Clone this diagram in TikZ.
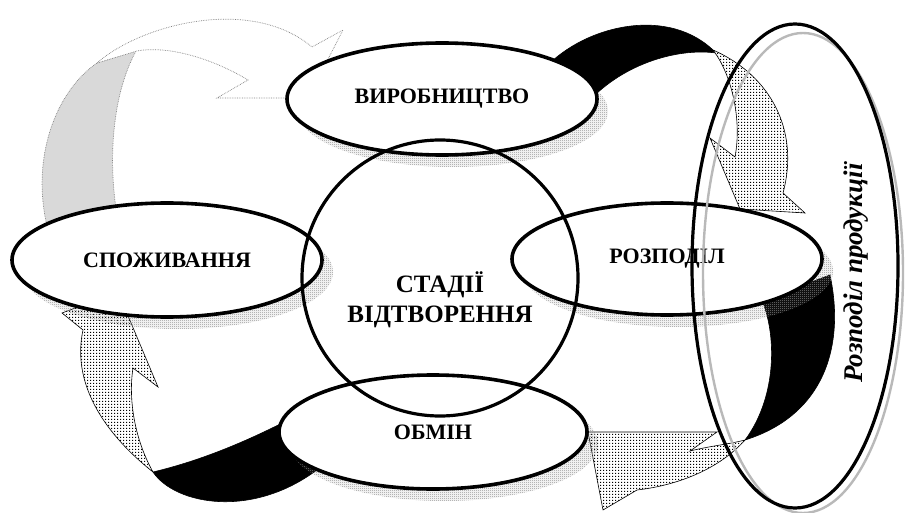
\documentclass[tikz,border=0pt]{standalone}
\usepackage{fontspec}
\setmainfont{Liberation Serif}
\usetikzlibrary{shapes.geometric,patterns}
\pgfdeclarepatternformonly{finedots}{\pgfqpoint{0pt}{0pt}}{\pgfqpoint{3pt}{3pt}}{\pgfqpoint{3pt}{3pt}}{\pgfpathrectangle{\pgfqpoint{0pt}{0pt}}{\pgfqpoint{1.4pt}{1.4pt}}\pgfusepath{fill}}
\pgfdeclarepatternformonly{checker}{\pgfqpoint{0pt}{0pt}}{\pgfqpoint{2pt}{2pt}}{\pgfqpoint{2pt}{2pt}}{\pgfpathrectangle{\pgfqpoint{0pt}{0pt}}{\pgfqpoint{1pt}{1pt}}\pgfpathrectangle{\pgfqpoint{1pt}{1pt}}{\pgfqpoint{1pt}{1pt}}\pgfusepath{fill}}
\tikzset{
  stage/.style={ellipse, draw, line width=3.6pt, fill=white, inner sep=0pt,
    minimum width=310pt, minimum height=112pt,
    font=\fontsize{22}{25}\selectfont\bfseries},
  shadowfill/.style={pattern=checker, pattern color=gray!90},
  dotband/.style={preaction={fill=white}, pattern=finedots, pattern color=black, draw=black, line width=0.6pt, line join=miter},
  blackband/.style={fill=black, draw=black, line width=0.6pt},
  ghost/.style={draw=gray, densely dotted, line width=0.7pt},
}
\begin{document}
\begin{tikzpicture}[x=1pt,y=-1pt]
\useasboundingbox (0,0) rectangle (907,513);
\fill[white] (0,0) rectangle (907,513);

% arrow A: consumption -> production (ghost)
\path[ghost, fill=gray!30] (117,215) .. controls (108,160) and (112,95) .. (136,51)
  -- (97,63) .. controls (55,92) and (30,160) .. (48,230) -- cycle;
\path[ghost, fill=white] (97,63) .. controls (140,25) and (250,-5) .. (312,47)
  -- (343,30) -- (308,98) -- (217,98) -- (248,80)
  .. controls (215,60) and (170,45) .. (137,51) -- cycle;

% arrow B: production -> distribution
\path[blackband] (545,68) .. controls (585,25) and (670,5) .. (716,53)
  .. controls (680,48) and (625,62) .. (588,102) -- cycle;
\path[dotband] (713,50) .. controls (770,75) and (800,130) .. (783,193)
  -- (805,213) -- (740,209) -- (710,138) -- (735,157)
  .. controls (742,120) and (732,75) .. (713,50) -- cycle;

% arrow C: distribution -> exchange
\path[blackband] (830,275) .. controls (845,345) and (825,415) .. (745,440)
  .. controls (775,400) and (778,340) .. (762,300) -- cycle;
\path[dotband] (745,440) .. controls (720,468) and (680,485) .. (637,490)
  -- (603,510) -- (588,432) -- (717,432) -- (690,451)
  .. controls (710,446) and (730,444) .. (745,440) -- cycle;

% arrow D: exchange -> consumption
\path[blackband] (292,418) .. controls (240,445) and (195,462) .. (153,472)
  .. controls (175,505) and (255,520) .. (322,466) -- cycle;
\path[dotband] (153,472) .. controls (100,430) and (72,380) .. (83,330)
  -- (62,313) -- (118,292) -- (158,387) -- (133,368)
  .. controls (128,400) and (135,440) .. (153,472) -- cycle;

% shadows
\fill[shadowfill] (453,111) ellipse [x radius=155, y radius=56];
\fill[shadowfill] (178,272) ellipse [x radius=155, y radius=57];
\fill[shadowfill] (678,271) ellipse [x radius=155, y radius=56];
\fill[shadowfill] (444,444) ellipse [x radius=154, y radius=57];

% stages
\node[stage] (vyr) at (442,99) {ВИРОБНИЦТВО};
\node[stage, minimum height=114pt] (spozh) at (167,260) {СПОЖИВАННЯ};
\node[stage] (rozp) at (667,259) {РОЗПОДІЛ};
\node[stage, minimum width=308pt, minimum height=114pt] (obmin) at (433,432) {ОБМІН};

% central circle
\node[circle, draw, line width=3.2pt, minimum size=276pt, inner sep=0pt] (cyc) at (440,278) {};
\node[font=\fontsize{25}{30}\selectfont\bfseries, align=center] (stadii) at (440,300) {СТАДІЇ\\ВІДТВОРЕННЯ};

% tall ellipse
\draw[gray!55, line width=2.4pt] (803,273) ellipse [x radius=100, y radius=240];
\node[ellipse, draw, line width=3.2pt, minimum width=206pt, minimum height=484pt, inner sep=0pt] (prod) at (795,266) {};
\node[rotate=90, font=\fontsize{27}{30}\selectfont\bfseries\itshape] (prodlabel) at (856,273) {Розподіл продукції};
\end{tikzpicture}
\end{document}
